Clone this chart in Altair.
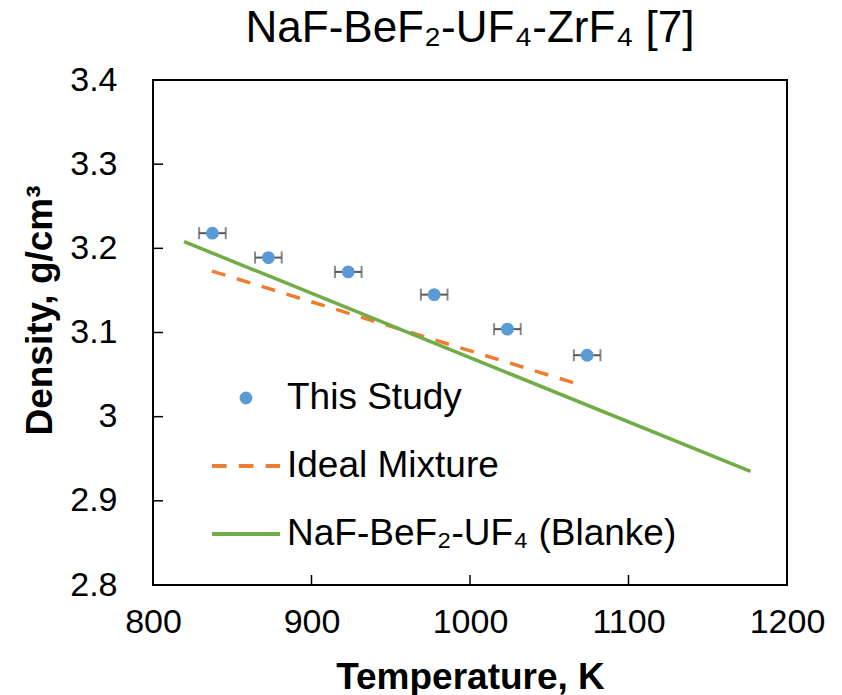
import altair as alt
import pandas as pd

series_names = ["This Study", "Ideal Mixture", "NaF-BeF₂-UF₄ (Blanke)"]
series_colors = ["#5B9BD5", "#ED7D31", "#70AD47"]

study_T = [837.5, 872.8, 923.2, 977.4, 1023.6, 1073.9]
study_rho = [3.218, 3.189, 3.172, 3.145, 3.104, 3.073]
study_err = [8.4, 8.4, 8.4, 8.4, 8.4, 8.4]

ideal_T = [837.2, 1065.8]
ideal_rho = [3.173, 3.040]
blanke_T = [819.6, 1177.0]
blanke_rho = [3.208, 2.935]

x_ticks = [800, 900, 1000, 1100, 1200]
y_ticks = [2.8, 2.9, 3.0, 3.1, 3.2, 3.3, 3.4]

FONT = "Liberation Sans"

study_df = pd.DataFrame({
    "T": study_T, "rho": study_rho,
    "lo": [t - e for t, e in zip(study_T, study_err)],
    "hi": [t + e for t, e in zip(study_T, study_err)],
    "series": series_names[0],
})
ideal_df = pd.DataFrame({"T": ideal_T, "rho": ideal_rho})
blanke_df = pd.DataFrame({"T": blanke_T, "rho": blanke_rho})

xscale = alt.Scale(domain=[800, 1200], nice=False, zero=False)
yscale = alt.Scale(domain=[2.8, 3.4], nice=False, zero=False)

xaxis = alt.Axis(values=x_ticks, format="d", title="Temperature, K", grid=False, domain=False,
                 ticks=False, tickSize=0, labelFlush=False, labelFont=FONT, labelFontSize=34,
                 labelColor="black", labelPadding=37, labelBaseline="middle",
                 titleFont=FONT, titleFontSize=37, titleFontWeight="bold",
                 titleColor="black", titleY=92, titleBaseline="middle")
yaxis = alt.Axis(values=y_ticks, format=".1~f", title="Density, g/cm³", grid=False,
                 domain=False, ticks=False, tickSize=0, labelFlush=False, labelFont=FONT,
                 labelFontSize=34, labelColor="black", labelPadding=36,
                 titleFont=FONT, titleFontSize=37, titleFontWeight="bold",
                 titleColor="black", titleAngle=270, titleX=-113, titleY=230,
                 titleAlign="center", titleBaseline="middle")

X = alt.X("T:Q", scale=xscale, axis=xaxis)
Y = alt.Y("rho:Q", scale=yscale, axis=yaxis)

circle_path = "M0.13,0A0.13,0.13,0,1,1,-0.13,0A0.13,0.13,0,1,1,0.13,0Z"
dash_path = "M-1,0H-0.57M-0.21,0H0.22M0.58,0H1"
line_path = "M-1,0H1"

leg = alt.Legend(orient="none", legendX=57, legendY=282, title=None,
                 labelFont=FONT, labelFontSize=37, labelColor="black",
                 symbolSize=4624, symbolStrokeWidth=4, symbolOpacity=1,
                 labelOffset=5, rowPadding=14, padding=0, labelLimit=700)

color_scale = alt.Scale(domain=series_names, range=series_colors)

xt = alt.Chart(pd.DataFrame({"T": x_ticks})).mark_rule(color="black", strokeWidth=1.5).encode(
    x=X, y=alt.value(505), y2=alt.value(495))
yt = alt.Chart(pd.DataFrame({"rho": y_ticks})).mark_rule(color="black", strokeWidth=1.5).encode(
    y=Y, x=alt.value(0), x2=alt.value(10))

ideal = alt.Chart(ideal_df).mark_line(strokeWidth=3.5, strokeCap="butt",
                                      color=series_colors[1], strokeDash=[14, 12]).encode(x=X, y=Y)
blanke = alt.Chart(blanke_df).mark_line(strokeWidth=3.5, strokeCap="butt",
                                        color=series_colors[2]).encode(x=X, y=Y)

errbars = alt.Chart(study_df).mark_errorbar(ticks=True, size=12, thickness=2,
                                            color="#595959").encode(
    x=alt.X("lo:Q", scale=xscale, axis=xaxis), x2="hi:Q", y=Y)

points = alt.Chart(study_df).mark_point(filled=True, size=4624, strokeWidth=4, opacity=1).encode(
    x=X, y=Y,
    fill=alt.Fill("series:N", scale=color_scale, legend=leg),
    stroke=alt.Stroke("series:N", scale=color_scale, legend=leg),
    shape=alt.Shape("series:N", scale=alt.Scale(domain=series_names,
                    range=[circle_path, dash_path, line_path]), legend=leg),
)

chart = alt.layer(xt, yt, ideal, blanke, errbars, points).properties(
    width=634, height=505,
    background="white",
    title=alt.TitleParams(text="NaF-BeF₂-UF₄-ZrF₄ [7]", font=FONT, fontSize=44,
                          fontWeight="normal", color="black", anchor="middle",
                          frame="group", offset=12),
    padding={"left": 153, "top": 80, "right": 55, "bottom": 110},
    autosize=alt.AutoSizeParams(type="none"),
).configure_view(stroke="black", strokeWidth=2)

chart.save("out.html", embed_options={"renderer": "svg", "actions": False})
